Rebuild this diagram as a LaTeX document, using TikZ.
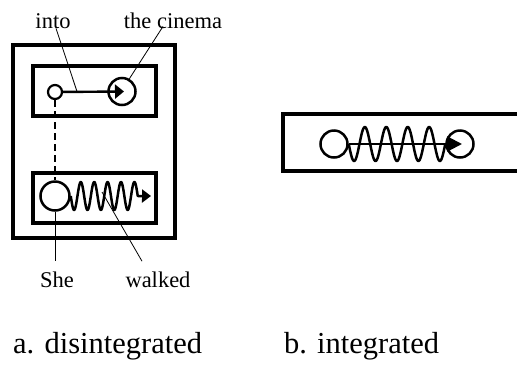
\documentclass[tikz,border=0pt]{standalone}
\usepackage{fontspec}
\setmainfont{Liberation Serif}
\usetikzlibrary{arrows.meta}
\tikzset{
  frame/.style={line width=3.2pt},
  role/.style={circle, draw, line width=2.5pt, inner sep=0pt, minimum size=27pt},
  small role/.style={role, line width=2.2pt, minimum size=14pt},
  path line/.style={line width=2.4pt},
  coil line/.style={line width=2.5pt, line join=round},
  word/.style={inner sep=0pt, anchor=base, font=\fontsize{22.5}{27}\selectfont},
  caption/.style={inner sep=0pt, anchor=base west, font=\fontsize{30.5}{36}\selectfont},
  pointer/.style={line width=0.8pt}
}
\begin{document}
\begin{tikzpicture}[x=1pt, y=-1pt]
  \useasboundingbox (0,0) rectangle (517,368);
  % a. disintegrated
  \draw[frame] (13,45) rectangle (175,238);
  \draw[frame] (33,66) rectangle (156,116);
  \draw[frame] (33,173) rectangle (156,223);
  \node at (55,92) (intoC) [small role] {};
  \node at (122,91.5) (cinemaC) [role] {};
  \node at (55,196) (sheC) [role, minimum size=29pt] {};
  \coordinate (walkend) at (151,196);
  \draw[path line, -{Triangle[length=9pt, width=14pt]}] (intoC) -- ([xshift=2pt]cinemaC.center);
  \draw[line width=2pt, dash pattern=on 6.5pt off 4.5pt] (intoC) -- (sheC);
  \draw[coil line, -{Triangle[length=9pt, width=13pt]}, shift={(sheC.east)}]
    plot[domain=0:67, samples=160, smooth] (\x, {14*sin(\x*26.866)}) -- (walkend);
  % words and pointers
  \node (into) at (53,28) [word] {into};
  \node (cinema) at (173,28) [word] {the cinema};
  \node (she) at (57,287) [word] {She};
  \node (walked) at (158,287) [word] {walked};
  \coordinate (intoP) at (77,91.5);
  \coordinate (walkedP) at (102,192);
  \draw[pointer] ([xshift=3pt]into.south) -- (intoP);
  \draw[pointer] ([xshift=-10pt, yshift=2pt]cinema.south) -- (cinemaC.60);
  \draw[pointer] (sheC.south) -- ([xshift=-2pt, yshift=10pt]she.north);
  \draw[pointer] (walkedP) -- ([xshift=-16pt, yshift=10pt]walked.north);
  % b. integrated
  \draw[frame] (283,114) rectangle (530,171);
  \node at (334,144) (leftC) [role] {};
  \node at (460,144) (rightC) [role] {};
  \draw[path line, -{Triangle[length=15pt, width=15pt]}] (leftC) -- ([xshift=2pt]rightC.center);
  \draw[coil line, shift={(leftC.east)}]
    plot[domain=0:96.5, samples=200, smooth] (\x, {17*sin(\x*16.791)});
  % captions
  \node (capA) at (13,353) [caption] {a. disintegrated};
  \node (capB) at (284,353) [caption] {b. integrated};
\end{tikzpicture}
\end{document}
